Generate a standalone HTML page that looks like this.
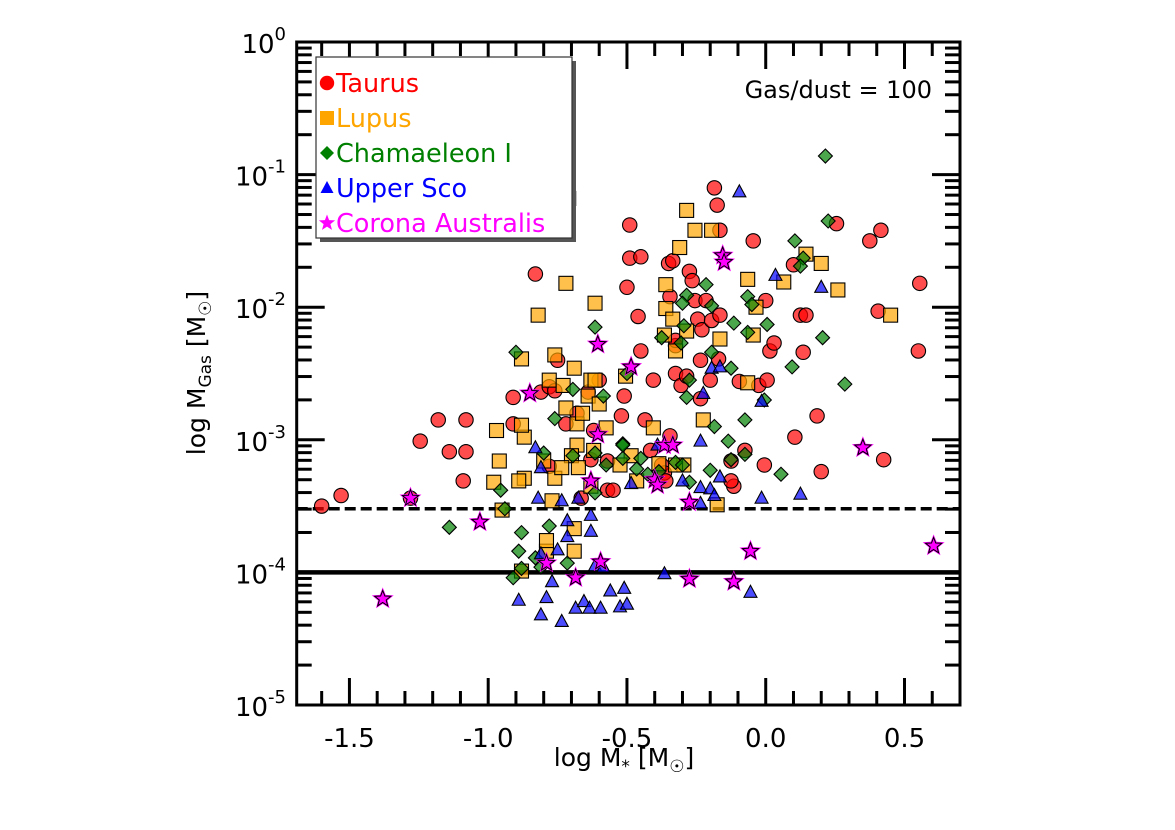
<!DOCTYPE html>
<html><head><meta charset="utf-8"><style>
html,body{margin:0;padding:0;background:#fff;}
svg{display:block;font-family:"DejaVu Sans","Liberation Sans",sans-serif;}
</style></head><body>
<svg id="chart" width="1175" height="830" viewBox="0 0 1175 830">
<g id="grid"></g>
<g id="marks"></g>
<g id="axes"></g>
<g id="legend"></g>
</svg>
<script>
const xTicks=[-1.5,-1.0,-0.5,0.0,0.5];
const xTickLabels=["-1.5","-1.0","-0.5","0.0","0.5"];
const yDecades=[0,-1,-2,-3,-4,-5];
const yTickLabels=["0","-1","-2","-3","-4","-5"];
const dashedLevel=-3.52;
const solidLevel=-4.0;
const taurusX=[-1.60,-1.53,-1.28,-1.245,-1.14,-1.18,-1.09,-1.08,-1.08,-0.91,-0.91,-0.83,-0.81,-0.78,-0.76,-0.78,-0.75,-0.72,-0.68,-0.64,-0.63,-0.62,-0.60,-0.57,-0.57,-0.52,-0.51,-0.49,-0.49,-0.50,-0.46,-0.45,-0.435,-0.415,-0.405,-0.375,-0.365,-0.35,-0.345,-0.325,-0.325,-0.305,-0.285,-0.275,-0.265,-0.255,-0.245,-0.235,-0.23,-0.195,-0.185,-0.175,-0.165,-0.17,-0.125,-0.115,-0.095,-0.075,-0.045,-0.025,-0.005,0.005,0.0,0.10,0.015,0.03,0.105,0.125,0.135,0.145,0.20,0.185,0.255,0.375,0.415,0.405,0.425,0.55,0.555,-0.165,-0.335,-0.45,-0.345,-0.36,-0.55,-0.665,-0.125,-0.235,-0.325,-0.215,-0.20];
const taurusY=[-3.50,-3.42,-3.44,-3.01,-3.09,-2.85,-3.31,-3.09,-2.85,-2.88,-2.68,-1.75,-2.64,-2.60,-2.63,-3.20,-2.40,-2.88,-2.80,-2.64,-3.15,-2.93,-2.55,-3.16,-3.38,-2.82,-2.67,-1.38,-1.63,-1.85,-2.07,-2.33,-2.85,-3.08,-2.55,-3.19,-3.25,-1.67,-1.92,-2.29,-2.50,-2.59,-2.52,-1.73,-1.80,-1.95,-2.09,-2.69,-2.17,-2.10,-1.10,-1.23,-2.06,-2.39,-3.16,-3.35,-2.56,-3.08,-1.50,-2.59,-3.19,-2.55,-1.95,-1.68,-2.33,-2.27,-2.98,-2.06,-2.34,-2.06,-3.24,-2.82,-1.37,-1.50,-1.42,-2.03,-3.15,-2.33,-1.82,-1.42,-1.65,-1.62,-2.97,-3.31,-3.38,-3.44,-3.31,-2.40,-2.25,-1.95,-2.55,-1.95];
const lupusX=[-0.71,-0.82,-0.72,-0.76,-0.72,-0.87,-0.88,-0.96,-0.97,-0.98,-0.95,-0.87,-0.78,-0.80,-0.77,-0.76,-0.73,-0.69,-0.68,-0.66,-0.64,-0.63,-0.68,-0.62,-0.60,-0.63,-0.69,-0.69,-0.70,-0.575,-0.505,-0.485,-0.465,-0.405,-0.385,-0.36,-0.36,-0.365,-0.335,-0.325,-0.295,-0.31,-0.285,-0.255,-0.195,-0.285,-0.165,-0.225,-0.065,0.065,-0.035,-0.045,-0.065,0.145,0.20,0.26,0.45,-0.175,-0.88,-0.79,-0.79,-0.525,-0.325,-0.615,-0.88,-0.615,-0.675,-0.735,-0.89];
const lupusY=[-1.18,-2.06,-1.82,-2.36,-2.76,-2.98,-2.89,-3.16,-2.93,-3.32,-3.53,-3.29,-2.55,-3.16,-3.46,-3.29,-2.59,-2.46,-2.88,-2.80,-2.67,-2.55,-3.04,-3.08,-2.73,-3.35,-3.67,-3.84,-3.12,-2.91,-2.52,-3.12,-3.31,-2.91,-3.18,-1.83,-2.01,-2.21,-2.09,-2.33,-3.19,-1.55,-1.27,-1.42,-1.42,-2.18,-2.24,-2.85,-1.79,-1.81,-2.00,-2.21,-2.57,-1.60,-1.67,-1.87,-2.06,-3.49,-3.99,-3.84,-3.76,-3.19,-3.19,-1.97,-2.39,-2.55,-3.21,-3.21,-3.31];
const chamX=[-0.90,-0.615,-0.76,-0.695,-0.585,-0.80,-0.695,-0.615,-0.515,-1.14,-0.955,-0.94,-0.88,-0.89,-0.91,-0.88,-0.83,-0.81,-0.78,-0.715,-0.615,-0.575,-0.515,-0.45,-0.465,-0.425,-0.385,-0.325,-0.275,-0.20,-0.295,0.215,0.225,0.105,0.135,0.125,-0.215,-0.285,-0.30,-0.195,-0.065,-0.05,-0.115,0.005,-0.065,-0.375,-0.305,-0.195,-0.125,0.205,0.095,0.285,-0.50,-0.275,-0.285,-0.005,-0.075,-0.135,-0.185,-0.515,-0.30,-0.125,-0.075,0.055];
const chamY=[-2.34,-2.15,-2.84,-2.62,-2.67,-3.10,-3.12,-3.10,-3.03,-3.66,-3.38,-3.52,-3.70,-3.84,-4.04,-3.97,-3.89,-3.96,-3.65,-3.93,-3.40,-3.19,-3.14,-3.14,-3.22,-3.26,-3.24,-3.17,-3.32,-3.23,-2.14,-0.86,-1.35,-1.50,-1.63,-1.69,-1.83,-1.91,-1.97,-1.99,-1.92,-1.98,-2.12,-2.13,-2.19,-2.23,-2.27,-2.34,-2.46,-2.23,-2.45,-2.58,-2.50,-2.55,-2.68,-2.70,-2.85,-3.01,-2.90,-3.04,-3.19,-3.15,-3.11,-3.26];
const uscoX=[-0.89,-0.81,-0.735,-0.685,-0.655,-0.635,-0.595,-0.56,-0.525,-0.50,-0.51,-0.79,-0.77,-0.81,-0.75,-0.715,-0.63,-0.735,-0.675,-0.715,-0.63,-0.615,-0.585,-0.83,-0.81,-0.82,-0.485,-0.365,-0.30,-0.235,-0.235,-0.20,-0.185,-0.165,-0.225,-0.195,-0.165,-0.095,0.035,0.20,-0.015,0.125,-0.055,-0.015,-0.39,-0.235];
const uscoY=[-4.21,-4.32,-4.37,-4.27,-4.22,-4.27,-4.27,-4.14,-4.26,-4.24,-4.12,-4.19,-4.07,-3.86,-3.83,-3.73,-3.69,-3.46,-3.44,-3.61,-3.57,-3.95,-3.96,-3.06,-3.21,-3.44,-3.33,-4.01,-3.31,-3.36,-3.48,-3.37,-3.42,-3.28,-2.65,-2.46,-2.45,-1.13,-1.76,-1.85,-3.44,-3.41,-4.15,-2.71,-3.04,-3.01];
const craX=[-1.38,-1.28,-1.03,-0.85,-0.79,-0.685,-0.63,-0.605,-0.595,-0.605,-0.485,-0.40,-0.39,-0.365,-0.335,-0.275,-0.275,-0.155,-0.15,-0.115,-0.055,0.35,0.605];
const craY=[-4.20,-3.44,-3.62,-2.65,-3.93,-4.04,-3.31,-2.28,-3.92,-2.96,-2.45,-3.30,-3.34,-3.04,-3.04,-3.47,-4.05,-1.61,-1.66,-4.07,-3.84,-3.06,-3.80];

const X0=296.7,X1=960,Y0=42,Y1=705,XMIN=-1.69,XMAX=0.70,YMIN=-5,YMAX=0;
const xs=v=>X0+(v-XMIN)/(XMAX-XMIN)*(X1-X0);
const ys=v=>Y1-(v-YMIN)/(YMAX-YMIN)*(Y1-Y0);
const NS="http://www.w3.org/2000/svg";
function mk(tag,attrs,parent){const e=document.createElementNS(NS,tag);for(const k in attrs)e.setAttribute(k,attrs[k]);parent.appendChild(e);return e;}
const grid=document.getElementById('grid'),marks=document.getElementById('marks'),axes=document.getElementById('axes'),legend=document.getElementById('legend');

let ln=mk('line',{x1:X0,x2:X1,y1:ys(dashedLevel),y2:ys(dashedLevel),stroke:'#000','stroke-width':3.5,'stroke-dasharray':'11,5'},grid);


ln=mk('line',{x1:X0,x2:X1,y1:ys(solidLevel),y2:ys(solidLevel),stroke:'#000','stroke-width':4.5},grid);



function starPts(cx,cy,R,r){let p=[];for(let i=0;i<10;i++){const a=-Math.PI/2+i*Math.PI/5;const rr=i%2?r:R;p.push((cx+rr*Math.cos(a)).toFixed(1)+','+(cy+rr*Math.sin(a)).toFixed(1));}return p.join(' ');}
function marker(shape,cx,cy,fill,parent,op){
  let e;
  if(shape==='circle')e=mk('circle',{cx:cx,cy:cy,r:7.2},parent);
  else if(shape==='square')e=mk('rect',{x:cx-7,y:cy-7,width:14,height:14},parent);
  else if(shape==='diamond')e=mk('polygon',{points:`${cx},${cy-7} ${cx+7},${cy} ${cx},${cy+7} ${cx-7},${cy}`},parent);
  else if(shape==='triangle')e=mk('polygon',{points:`${cx},${cy-7} ${cx+6.5},${cy+5} ${cx-6.5},${cy+5}`},parent);
  else e=mk('polygon',{points:starPts(cx,cy,8.5,3.6)},parent);
  e.setAttribute('fill',fill);e.setAttribute('fill-opacity',op);
  e.setAttribute('stroke','#000');e.setAttribute('stroke-width',shape==='star'?1:1.1);
  return e;
}
const series=[
 ['taurus',taurusX,taurusY,'circle','#ff0000','#ff0000'],
 ['lupus',lupusX,lupusY,'square','#ffa500','#ffa500'],
 ['chamaeleon',chamX,chamY,'diamond','#008000','#008000'],
 ['upper-sco',uscoX,uscoY,'triangle','#0000ff','#0000ff'],
 ['corona-australis',craX,craY,'star','#ff00ff','#ff00ff']
];
series.forEach(s=>{
  const g=mk('g',{},marks);
  
  
  s[1].forEach((v,i)=>{
    const cx=xs(v),cy=ys(s[2][i]);
    if(s[3]==='star'){const h=mk('polygon',{points:starPts(cx,cy,11.5,5),fill:'#ff00ff'},g);
      }
    const m=marker(s[3],cx,cy,s[4],g,s[3]==='star'?0.8:0.7);
    
    
  });
});

const fr=mk('rect',{x:X0,y:Y0,width:X1-X0,height:Y1-Y0,fill:'none',stroke:'#000','stroke-width':3},axes);


for(let t=-16;t<=7;t++){const v=t/10;const x=xs(v);const major=(t%5===0);const L=major?27:14;
  mk('line',{x1:x,x2:x,y1:Y1,y2:Y1-L,stroke:'#000','stroke-width':3},axes);
  mk('line',{x1:x,x2:x,y1:Y0,y2:Y0+L,stroke:'#000','stroke-width':3},axes);}
xTicks.forEach((v,i)=>{const t=mk('text',{x:xs(v),y:747,'text-anchor':'middle','font-size':26},axes);t.textContent=xTickLabels[i];
  
  });
yDecades.forEach((d,i)=>{const y=ys(d);
  mk('line',{x1:X0,x2:X0+28,y1:y,y2:y,stroke:'#000','stroke-width':3},axes);
  mk('line',{x1:X1,x2:X1-28,y1:y,y2:y,stroke:'#000','stroke-width':3},axes);
  if(d>-5){for(let k=2;k<=9;k++){const yy=ys(d-1+Math.log10(k));
    mk('line',{x1:X0,x2:X0+15,y1:yy,y2:yy,stroke:'#000','stroke-width':3},axes);
    mk('line',{x1:X1,x2:X1-15,y1:yy,y2:yy,stroke:'#000','stroke-width':3},axes);}}
  const t=mk('text',{x:286,y:y+11,'text-anchor':'end','font-size':26},axes);
  
  
  t.textContent='10';
  const s=mk('tspan',{dy:-13,'font-size':18},t);s.textContent=yTickLabels[i];
});
let xl=mk('text',{x:624,y:766,'text-anchor':'middle','font-size':25},axes);


xl.innerHTML='log M<tspan font-size="17" dy="6">*</tspan><tspan dy="-6"> [M</tspan><tspan font-size="17" dy="6">☉</tspan><tspan dy="-6">]</tspan>';
let yl=mk('text',{x:0,y:0,'text-anchor':'middle','font-size':25,transform:'translate(205,373) rotate(-90)'},axes);


yl.innerHTML='log M<tspan font-size="17" dy="6">Gas</tspan><tspan dy="-6"> [M</tspan><tspan font-size="17" dy="6">☉</tspan><tspan dy="-6">]</tspan>';
let ann=mk('text',{x:932,y:98,'text-anchor':'end','font-size':24},axes);


ann.textContent='Gas/dust = 100';

mk('rect',{x:320,y:61,width:256,height:181,fill:'#555'},legend);
const lb=mk('rect',{x:316,y:57,width:256,height:181,fill:'#fff',stroke:'#333','stroke-width':1.2},legend);


const legNames=['Taurus','Lupus','Chamaeleon I','Upper Sco','Corona Australis'];
series.forEach((s,i)=>{const y=83+i*35;
  const g=mk('g',{},legend);
  
  
  const m=marker(s[3],327,y,s[4],g,1);m.setAttribute('stroke','none');
  const t=mk('text',{x:336,y:y+9,'font-size':25.5,fill:s[5]},g);t.textContent=legNames[i];});
</script>
</body></html>
